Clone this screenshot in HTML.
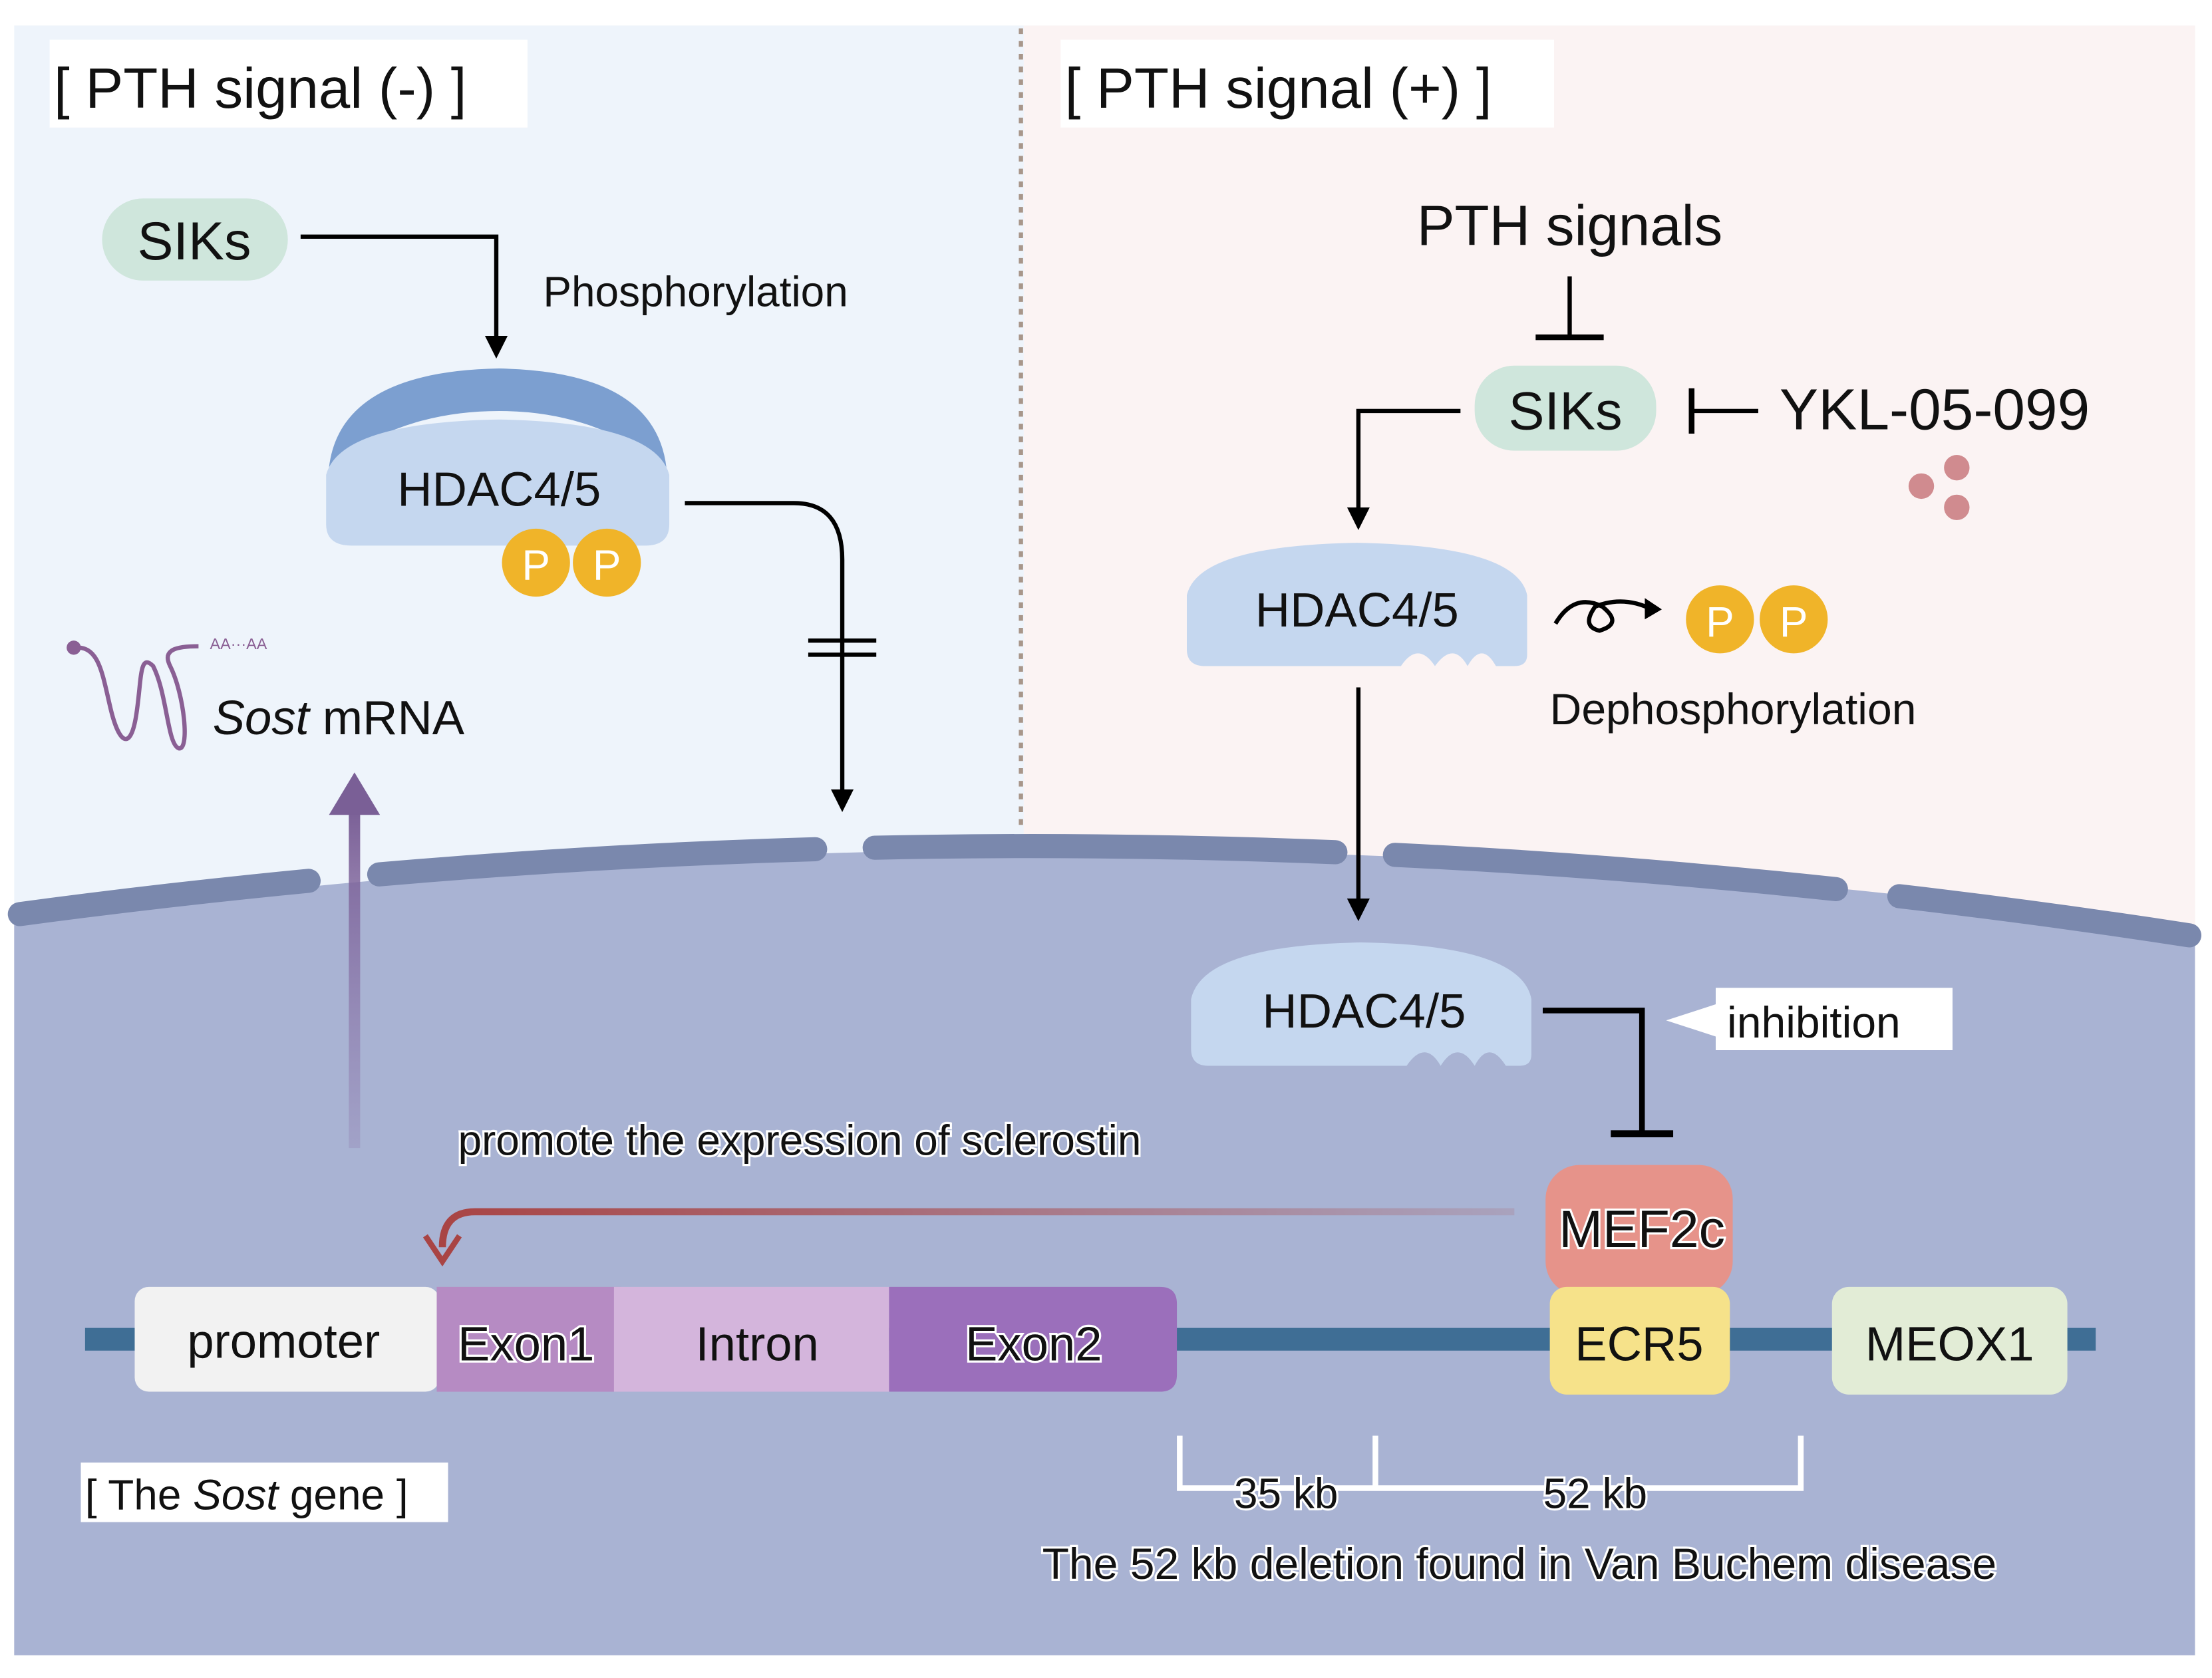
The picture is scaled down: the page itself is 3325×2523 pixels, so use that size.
<!DOCTYPE html>
<html><head><meta charset="utf-8"><style>
html,body{margin:0;padding:0;background:#fff}
svg{display:block}
text{font-family:"Liberation Sans",sans-serif;fill:#111}
.h{paint-order:stroke;stroke:#fff;stroke-width:3px}
</style></head><body>
<svg width="3325" height="2523" viewBox="0 0 1560 1184" preserveAspectRatio="none" xmlns="http://www.w3.org/2000/svg">
<defs>
<marker id="ar" markerWidth="16" markerHeight="16" refX="8" refY="8" orient="auto" markerUnits="userSpaceOnUse" viewBox="0 0 16 16"><path d="M0,0 L16,8 L0,16 z" fill="#000"/></marker>
<linearGradient id="rg" gradientUnits="userSpaceOnUse" x1="312" y1="0" x2="1068" y2="0"><stop offset="0" stop-color="#a94444"/><stop offset="1" stop-color="#a94444" stop-opacity="0.15"/></linearGradient>
<linearGradient id="pg" gradientUnits="userSpaceOnUse" x1="0" y1="810" x2="0" y2="570"><stop offset="0" stop-color="#8a6fa6" stop-opacity="0.25"/><stop offset="1" stop-color="#7a5f96"/></linearGradient>
</defs>
<rect x="0" y="0" width="1560" height="1184" fill="#fff"/>
<rect x="10" y="18" width="712" height="660" fill="#eef4fb"/>
<rect x="722" y="18" width="826" height="660" fill="#fbf3f3"/>
<line x1="720" y1="20" x2="720" y2="585" stroke="#a8968a" stroke-width="3" stroke-dasharray="4 5"/>
<path d="M10,1168 L10,650 Q780,545 1548,658 L1548,1168 Z" fill="#a9b3d3"/>
<path d="M14,645 Q780,542 1544,660" fill="none" stroke="#7a88ad" stroke-width="17" stroke-linecap="round" stroke-dasharray="205 50 308 42 325 42 312 45 400"/>
<rect x="35" y="28" width="337" height="62" fill="#fff"/>
<text x="38" y="76" font-size="40">[ PTH  signal (-) ]</text>
<rect x="748" y="28" width="348" height="62" fill="#fff"/>
<text x="751" y="76" font-size="40">[ PTH  signal (+) ]</text>
<rect x="72" y="140" width="131" height="58" rx="29" fill="#cfe6dc"/>
<text x="137" y="183" font-size="38" text-anchor="middle">SIKs</text>
<polyline points="212,167 350,167 350,245" fill="none" stroke="#000" stroke-width="3" marker-end="url(#ar)"/>
<text x="383" y="216" font-size="30">Phosphorylation</text>
<path d="M232,330 Q240,262 352,260 Q462,262 470,330 Q420,290 352,290 Q282,290 232,330 Z" fill="#7c9fd0"/>
<path d="M230,335 Q240,298 352,296 Q462,298 472,335 L472,370 Q472,385 455,385 L248,385 Q230,385 230,370 Z" fill="#c5d7ef"/>
<text x="352" y="357" font-size="34" text-anchor="middle">HDAC4/5</text>
<circle cx="378" cy="397" r="24" fill="#f0b429"/><circle cx="428" cy="397" r="24" fill="#f0b429"/>
<text x="378" y="409" font-size="30" text-anchor="middle" style="fill:#fff">P</text>
<text x="428" y="409" font-size="30" text-anchor="middle" style="fill:#fff">P</text>
<path d="M483,355 L560,355 Q594,355 594,395 L594,565" fill="none" stroke="#000" stroke-width="3" marker-end="url(#ar)"/>
<line x1="570" y1="452" x2="618" y2="452" stroke="#000" stroke-width="3"/>
<line x1="570" y1="462" x2="618" y2="462" stroke="#000" stroke-width="3"/>
<path d="M52,457 C70,455 72,475 78,500 C84,525 92,530 96,505 C100,480 98,460 108,470 C118,490 118,525 126,528 C134,530 130,490 120,470 C114,458 125,456 140,456" fill="none" stroke="#8a5f94" stroke-width="3"/>
<circle cx="52" cy="457" r="5" fill="#8a5f94"/>
<text x="148" y="458" font-size="11" style="fill:#8a5f94">AA···AA</text>
<text x="150" y="518" font-size="34"><tspan font-style="italic">Sost</tspan> mRNA</text>
<rect x="246" y="570" width="8" height="240" fill="url(#pg)"/>
<path d="M232,575 L250,545 L268,575 Z" fill="#7a5f96"/>
<text x="1107" y="173" font-size="40" text-anchor="middle">PTH signals</text>
<line x1="1107" y1="195" x2="1107" y2="238" stroke="#000" stroke-width="3"/>
<line x1="1083" y1="238" x2="1131" y2="238" stroke="#000" stroke-width="4"/>
<rect x="1040" y="258" width="128" height="60" rx="28" fill="#cfe6dc"/>
<text x="1104" y="303" font-size="38" text-anchor="middle">SIKs</text>
<line x1="1193" y1="274" x2="1193" y2="306" stroke="#000" stroke-width="4"/>
<line x1="1193" y1="290" x2="1240" y2="290" stroke="#000" stroke-width="3"/>
<text x="1255" y="303" font-size="41">YKL-05-099</text>
<circle cx="1355" cy="343" r="9" fill="#d08b8f"/><circle cx="1380" cy="330" r="9" fill="#d08b8f"/><circle cx="1380" cy="358" r="9" fill="#d08b8f"/>
<polyline points="1030,290 958,290 958,366" fill="none" stroke="#000" stroke-width="3" marker-end="url(#ar)"/>
<path d="M837,420 Q845,385 957,383 Q1070,385 1077,420 L1077,462 Q1077,470 1068,470 L1055,470 Q1045,452 1035,470 Q1025,452 1012,470 Q1000,452 988,470 L850,470 Q837,470 837,458 Z" fill="#c5d7ef"/>
<text x="957" y="442" font-size="34" text-anchor="middle">HDAC4/5</text>
<path d="M1097,440 Q1110,418 1130,428 Q1145,440 1128,445 Q1115,442 1125,428 Q1145,420 1165,430" fill="none" stroke="#000" stroke-width="3"/>
<path d="M1160,422 L1172,430 L1160,437 Z" fill="#000"/>
<circle cx="1213" cy="437" r="24" fill="#f0b429"/><circle cx="1265" cy="437" r="24" fill="#f0b429"/>
<text x="1213" y="449" font-size="30" text-anchor="middle" style="fill:#fff">P</text>
<text x="1265" y="449" font-size="30" text-anchor="middle" style="fill:#fff">P</text>
<text x="1093" y="511" font-size="31">Dephosphorylation</text>
<line x1="958" y1="485" x2="958" y2="642" stroke="#000" stroke-width="3" marker-end="url(#ar)"/>
<path d="M840,705 Q848,667 960,665 Q1073,667 1080,705 L1080,744 Q1080,752 1072,752 L1062,752 Q1050,733 1040,752 Q1028,733 1016,752 Q1005,733 992,752 L852,752 Q840,752 840,740 Z" fill="#c5d7ef"/>
<text x="962" y="725" font-size="34" text-anchor="middle">HDAC4/5</text>
<polyline points="1088,713 1158,713 1158,800" fill="none" stroke="#000" stroke-width="4"/>
<line x1="1136" y1="800" x2="1180" y2="800" stroke="#000" stroke-width="5"/>
<rect x="1210" y="697" width="167" height="44" fill="#fff"/>
<path d="M1175,720 L1212,708 L1212,732 Z" fill="#fff"/>
<text x="1218" y="732" font-size="31">inhibition</text>
<text x="323" y="815" font-size="30" class="h">promote the expression of sclerostin</text>
<path d="M1068,855 L335,855 Q312,855 312,880" fill="none" stroke="url(#rg)" stroke-width="5"/>
<path d="M300,872 L312,890 L324,872" fill="none" stroke="#a94444" stroke-width="4"/>
<line x1="60" y1="945" x2="1478" y2="945" stroke="#3f6e95" stroke-width="16"/>
<rect x="1090" y="822" width="132" height="92" rx="24" fill="#e6938a"/>
<text x="1158" y="880" font-size="37" text-anchor="middle" class="h">MEF2c</text>
<rect x="95" y="908" width="215" height="74" rx="10" fill="#f2f2f2"/>
<text x="200" y="958" font-size="34" text-anchor="middle">promoter</text>
<rect x="308" y="908" width="130" height="74" fill="#b68bc3"/>
<rect x="433" y="908" width="194" height="74" fill="#d4b5dc"/>
<path d="M627,908 L818,908 Q830,908 830,920 L830,970 Q830,982 818,982 L627,982 Z" fill="#9b6fbb"/>
<text x="371" y="960" font-size="34" text-anchor="middle" class="h">Exon1</text>
<text x="534" y="960" font-size="34" text-anchor="middle">Intron</text>
<text x="729" y="960" font-size="34" text-anchor="middle" class="h">Exon2</text>
<rect x="1093" y="908" width="127" height="76" rx="12" fill="#f6e28a"/>
<text x="1156" y="960" font-size="34" text-anchor="middle">ECR5</text>
<rect x="1292" y="908" width="166" height="76" rx="12" fill="#e2ecd6"/>
<text x="1375" y="960" font-size="34" text-anchor="middle">MEOX1</text>
<rect x="57" y="1032" width="259" height="42" fill="#fff"/>
<text x="60" y="1065" font-size="30">[ The <tspan font-style="italic">Sost</tspan> gene ]</text>
<polyline points="832,1013 832,1050 1270,1050 1270,1013" fill="none" stroke="#fff" stroke-width="4"/>
<line x1="970" y1="1013" x2="970" y2="1050" stroke="#fff" stroke-width="4"/>
<text x="907" y="1064" font-size="30" text-anchor="middle" class="h">35 kb</text>
<text x="1125" y="1064" font-size="30" text-anchor="middle" class="h">52 kb</text>
<text x="735" y="1114" font-size="31" class="h">The 52 kb deletion found in Van Buchem disease</text>
</svg>
</body></html>
